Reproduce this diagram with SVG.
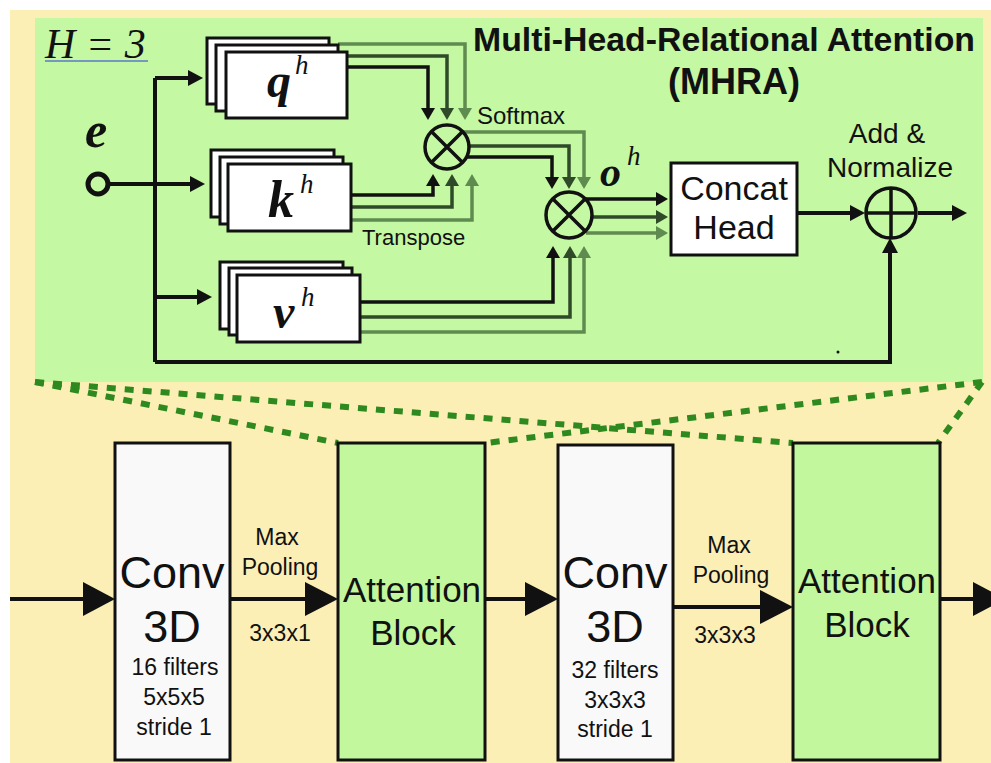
<svg xmlns="http://www.w3.org/2000/svg" width="991" height="763" viewBox="0 0 991 763">
  <style>
    .sans { font-family: "Liberation Sans", Arial, sans-serif; fill: #111; }
    .serif { font-family: "Liberation Serif", "Times New Roman", serif; fill: #111; }
    .bi { font-weight: bold; font-style: italic; }
    .it { font-style: italic; }
    .box { fill: #ffffff; stroke: #111; stroke-width: 3; }
    .cb { fill: none; stroke-width: 3.5; stroke-linejoin: miter; }
    .k { stroke: #111; }
    .d { stroke: #2f4a28; }
    .l { stroke: #5f8a50; }
    .main { fill: none; stroke: #111; stroke-width: 4; }
    .dash { fill: none; stroke: #2e8a1e; stroke-width: 6; stroke-dasharray: 9 9; }
    .conv { fill: #f9f9f9; stroke: #111; stroke-width: 3; }
    .att { fill: #c2f79e; stroke: #111; stroke-width: 3; }
  </style>
  <defs>
    <marker id="ak" markerUnits="userSpaceOnUse" markerWidth="12" markerHeight="14" viewBox="0 0 12 14" refX="4" refY="7" orient="auto">
      <path d="M0,0 L12,7 L0,14 z" fill="#111"/>
    </marker>
    <marker id="ad" markerUnits="userSpaceOnUse" markerWidth="12" markerHeight="14" viewBox="0 0 12 14" refX="4" refY="7" orient="auto">
      <path d="M0,0 L12,7 L0,14 z" fill="#2f4a28"/>
    </marker>
    <marker id="al" markerUnits="userSpaceOnUse" markerWidth="12" markerHeight="14" viewBox="0 0 12 14" refX="4" refY="7" orient="auto">
      <path d="M0,0 L12,7 L0,14 z" fill="#5f8a50"/>
    </marker>
    <marker id="big" markerUnits="userSpaceOnUse" markerWidth="15" markerHeight="16" viewBox="0 0 15 16" refX="5" refY="8" orient="auto">
      <path d="M0,0 L15,8 L0,16 z" fill="#111"/>
    </marker>
  </defs>

  <!-- page background -->
  <rect x="10" y="10" width="981" height="753" fill="#fcefb6"/>

  <!-- MHRA panel -->
  <rect id="mhra-panel" x="35" y="18" width="948" height="364" fill="#c4f8a2"/>

  <!-- zoom guides from the panel to the attention blocks -->
  <g id="zoom-guides">
    <line class="dash" x1="35" y1="382" x2="338" y2="443"/>
    <line class="dash" x1="35" y1="382" x2="793" y2="443"/>
    <line class="dash" x1="982" y1="382" x2="486" y2="443"/>
    <line class="dash" x1="982" y1="382" x2="938" y2="443"/>
  </g>

  <!-- panel labels -->
  <g id="heads-label">
    <text class="serif it" x="45" y="58" font-size="42">H = 3</text>
    <line x1="45" y1="61" x2="148" y2="61" stroke="#5a78c8" stroke-width="1.5"/>
  </g>
  <g id="title">
    <text class="sans" x="724" y="51" font-size="34" font-weight="bold" text-anchor="middle" textLength="502" lengthAdjust="spacingAndGlyphs">Multi-Head-Relational Attention</text>
    <text class="sans" x="734" y="94" font-size="36" font-weight="bold" text-anchor="middle">(MHRA)</text>
  </g>

  <!-- connectors -->
  <g id="connectors">
    <!-- input e fan-out -->
    <path class="main" d="M155,78 V362"/>
    <path class="main" d="M110,184 H195" marker-end="url(#big)"/>
    <path class="main" d="M155,78 H193" marker-end="url(#big)"/>
    <path class="main" d="M155,297 H202" marker-end="url(#big)"/>
    <!-- residual -->
    <path class="main" d="M155,362 H890 V248" marker-end="url(#big)"/>

    <!-- q to first product -->
    <path class="cb l" d="M338,44 H465 V112" marker-end="url(#al)"/>
    <path class="cb d" d="M347,56 H447 V112" marker-end="url(#ad)"/>
    <path class="cb k" d="M347,67 H428 V112" marker-end="url(#ak)"/>
    <!-- k (transposed) to first product -->
    <path class="cb k" d="M351,195 H433 V182" marker-end="url(#ak)"/>
    <path class="cb d" d="M351,207 H452 V182" marker-end="url(#ad)"/>
    <path class="cb l" d="M351,220 H472 V182" marker-end="url(#al)"/>

    <!-- softmax scores to second product -->
    <path class="cb l" d="M462,132 H584 V181" marker-end="url(#al)"/>
    <path class="cb d" d="M469,146 H569 V181" marker-end="url(#ad)"/>
    <path class="cb k" d="M466,157 H552 V181" marker-end="url(#ak)"/>
    <!-- v to second product -->
    <path class="cb k" d="M360,302 H553 V254" marker-end="url(#ak)"/>
    <path class="cb d" d="M360,317 H570 V254" marker-end="url(#ad)"/>
    <path class="cb l" d="M360,332 H584 V254" marker-end="url(#al)"/>

    <!-- head outputs into concat -->
    <path class="cb k" d="M586,199 H660" marker-end="url(#ak)"/>
    <path class="cb d" d="M592,217 H660" marker-end="url(#ad)"/>
    <path class="cb l" d="M586,233 H660" marker-end="url(#al)"/>

    <!-- concat to add & normalize, then out -->
    <path class="main" d="M797,213 H855" marker-end="url(#big)"/>
    <path class="main" d="M918,213 H957" marker-end="url(#big)"/>

    <!-- backbone arrows -->
    <line class="main" x1="10" y1="599" x2="86" y2="599"/>
    <polygon points="83,582 115,599 83,616" fill="#111"/>
    <line class="main" x1="230" y1="599" x2="307" y2="599"/>
    <polygon points="305,582 338,599 305,616" fill="#111"/>
    <line class="main" x1="485" y1="599" x2="527" y2="599"/>
    <polygon points="525,582 558,599 525,616" fill="#111"/>
    <line class="main" x1="673" y1="607" x2="762" y2="607"/>
    <polygon points="760,590 793,607 760,624" fill="#111"/>
    <line class="main" x1="940" y1="599" x2="975" y2="599"/>
    <polygon points="973,582 1005,599 973,616" fill="#111"/>
  </g>

  <!-- input node e -->
  <g id="input-e">
    <text class="serif bi" x="85" y="147" font-size="50">e</text>
    <circle cx="98" cy="184" r="10" fill="none" stroke="#111" stroke-width="5"/>
  </g>

  <!-- query heads -->
  <g id="query">
    <rect class="box" x="207" y="38" width="122" height="66"/>
    <rect class="box" x="216" y="45" width="122" height="66"/>
    <rect class="box" x="226" y="52" width="121" height="66"/>
    <text class="serif bi" x="267" y="97" font-size="48">q</text>
    <text class="serif it" x="295" y="74" font-size="27">h</text>
  </g>

  <!-- key heads -->
  <g id="key">
    <rect class="box" x="211" y="150" width="123" height="67"/>
    <rect class="box" x="220" y="157" width="123" height="67"/>
    <rect class="box" x="228" y="164" width="123" height="67"/>
    <text class="serif bi" x="268" y="217" font-size="52">k</text>
    <text class="serif it" x="300" y="193" font-size="27">h</text>
  </g>

  <!-- value heads -->
  <g id="value">
    <rect class="box" x="220" y="262" width="123" height="67"/>
    <rect class="box" x="229" y="268" width="123" height="67"/>
    <rect class="box" x="237" y="275" width="123" height="67"/>
    <text class="serif bi" x="273" y="328" font-size="48">v</text>
    <text class="serif it" x="301" y="306" font-size="27">h</text>
  </g>

  <!-- scores product -->
  <g id="product-qk">
    <circle cx="447" cy="147" r="22" fill="none" stroke="#111" stroke-width="3.5"/>
    <path d="M431.4,131.4 L462.6,162.6 M462.6,131.4 L431.4,162.6" stroke="#111" stroke-width="3.5"/>
    <text class="sans" x="477" y="124" font-size="24">Softmax</text>
    <text class="sans" x="362" y="245" font-size="22">Transpose</text>
  </g>

  <!-- weighted values product -->
  <g id="product-v">
    <circle cx="569" cy="215" r="23" fill="none" stroke="#111" stroke-width="3.5"/>
    <path d="M552.7,198.7 L585.3,231.3 M585.3,198.7 L552.7,231.3" stroke="#111" stroke-width="3.5"/>
    <text class="serif bi" x="600" y="186" font-size="42">o</text>
    <text class="serif it" x="627" y="165" font-size="27">h</text>
  </g>

  <!-- concat head -->
  <g id="concat">
    <rect class="box" x="671" y="163" width="126" height="92"/>
    <text class="sans" x="734" y="200" font-size="34" text-anchor="middle">Concat</text>
    <text class="sans" x="734" y="239" font-size="34" text-anchor="middle">Head</text>
  </g>

  <!-- add & normalize -->
  <g id="add-norm">
    <circle cx="891" cy="213" r="25" fill="none" stroke="#111" stroke-width="3.5"/>
    <path d="M866,213 H916 M891,188 V238" stroke="#111" stroke-width="3.5"/>
    <text class="sans" x="887" y="143" font-size="28" text-anchor="middle">Add &amp;</text>
    <text class="sans" x="890" y="177" font-size="28" text-anchor="middle">Normalize</text>
    <circle cx="838" cy="352" r="1.5" fill="#111"/>
  </g>

  <!-- backbone -->
  <g id="conv1">
    <rect class="conv" x="115" y="443" width="115" height="317"/>
    <text class="sans" x="172" y="588" font-size="45" text-anchor="middle">Conv</text>
    <text class="sans" x="172" y="642" font-size="45" text-anchor="middle">3D</text>
    <text class="sans" x="175" y="675" font-size="23" text-anchor="middle">16 filters</text>
    <text class="sans" x="174" y="705" font-size="23" text-anchor="middle">5x5x5</text>
    <text class="sans" x="174" y="735" font-size="23" text-anchor="middle">stride 1</text>
  </g>
  <g id="pool1">
    <text class="sans" x="277" y="545" font-size="23" text-anchor="middle">Max</text>
    <text class="sans" x="280" y="575" font-size="23" text-anchor="middle">Pooling</text>
    <text class="sans" x="280" y="641" font-size="23" text-anchor="middle">3x3x1</text>
  </g>
  <g id="attention1">
    <rect class="att" x="338" y="443" width="147" height="317"/>
    <text class="sans" x="412" y="602" font-size="35" text-anchor="middle">Attention</text>
    <text class="sans" x="413" y="645" font-size="35" text-anchor="middle">Block</text>
  </g>
  <g id="conv2">
    <rect class="conv" x="558" y="445" width="115" height="315"/>
    <text class="sans" x="615" y="588" font-size="45" text-anchor="middle">Conv</text>
    <text class="sans" x="615" y="642" font-size="45" text-anchor="middle">3D</text>
    <text class="sans" x="615" y="678" font-size="23" text-anchor="middle">32 filters</text>
    <text class="sans" x="615" y="708" font-size="23" text-anchor="middle">3x3x3</text>
    <text class="sans" x="615" y="737" font-size="23" text-anchor="middle">stride 1</text>
  </g>
  <g id="pool2">
    <text class="sans" x="729" y="553" font-size="23" text-anchor="middle">Max</text>
    <text class="sans" x="731" y="583" font-size="23" text-anchor="middle">Pooling</text>
    <text class="sans" x="725" y="643" font-size="23" text-anchor="middle">3x3x3</text>
  </g>
  <g id="attention2">
    <rect class="att" x="793" y="443" width="147" height="317"/>
    <text class="sans" x="867" y="593" font-size="35" text-anchor="middle">Attention</text>
    <text class="sans" x="867" y="637" font-size="35" text-anchor="middle">Block</text>
  </g>
</svg>
